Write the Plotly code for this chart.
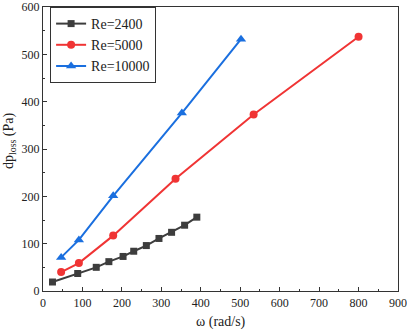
import plotly.graph_objects as go

omega_2400 = [24, 88, 135, 167, 203, 230, 262, 294, 326, 359, 390]
dp_2400 = [19, 37, 50, 62, 73, 84, 96, 111, 124, 139, 156]

omega_5000 = [46, 91, 178, 336, 534, 800]
dp_5000 = [40, 59, 117, 237, 373, 537]

omega_10000 = [46, 91, 178, 352, 502]
dp_10000 = [71, 108, 201, 376, 532]

FONT = "Liberation Serif"

fig = go.Figure()
fig.add_trace(go.Scatter(x=omega_2400, y=dp_2400, mode="lines+markers", name="Re=2400",
                         line=dict(color="#3d3d3d", width=2),
                         marker=dict(symbol="square", size=7, color="#3d3d3d")))
fig.add_trace(go.Scatter(x=omega_5000, y=dp_5000, mode="lines+markers", name="Re=5000",
                         line=dict(color="#f03434", width=2),
                         marker=dict(symbol="circle", size=8, color="#f03434")))
fig.add_trace(go.Scatter(x=omega_10000, y=dp_10000, mode="lines+markers", name="Re=10000",
                         line=dict(color="#1a6fdf", width=2),
                         marker=dict(symbol="triangle-up", size=9, color="#1a6fdf")))

axis_common = dict(showgrid=False, zeroline=False, showline=True, linecolor="#333333",
                   linewidth=1.2, mirror=True, ticks="inside", ticklen=4, tickcolor="#333333",
                   automargin=False,
                   tickfont=dict(family=FONT, size=12, color="#222222"))

fig.update_xaxes(range=[0, 900], dtick=100,
                 minor=dict(ticks="inside", ticklen=2, dtick=50, tickcolor="#333333"),
                 **axis_common)
fig.update_yaxes(range=[0, 600], dtick=100,
                 minor=dict(ticks="inside", ticklen=2, dtick=50, tickcolor="#333333"),
                 **axis_common)

fig.add_annotation(text="ω (rad/s)", xref="paper", yref="paper", x=0.501, y=-0.109,
                   xanchor="center", yanchor="middle", showarrow=False,
                   font=dict(family=FONT, size=14, color="#222222"))
fig.add_annotation(text="dp<sub>loss</sub> (Pa)", xref="paper", yref="paper", x=-0.096, y=0.528,
                   xanchor="center", yanchor="middle", showarrow=False, textangle=-90,
                   font=dict(family=FONT, size=14, color="#222222"))

fig.update_layout(
    width=407, height=332,
    margin=dict(l=43, r=9, t=7, b=41),
    plot_bgcolor="white", paper_bgcolor="white",
    font=dict(family=FONT, color="#222222"),
    legend=dict(x=0.02, y=1.0, xanchor="left", yanchor="top",
                bordercolor="#333333", borderwidth=1, bgcolor="white",
                font=dict(family=FONT, size=14, color="#222222"),
                tracegroupgap=0, itemwidth=30),
    showlegend=True,
)

fig.write_html("out.html", config={"displayModeBar": False},
               post_script="document.body.style.margin='0';document.body.style.overflow='hidden';")
